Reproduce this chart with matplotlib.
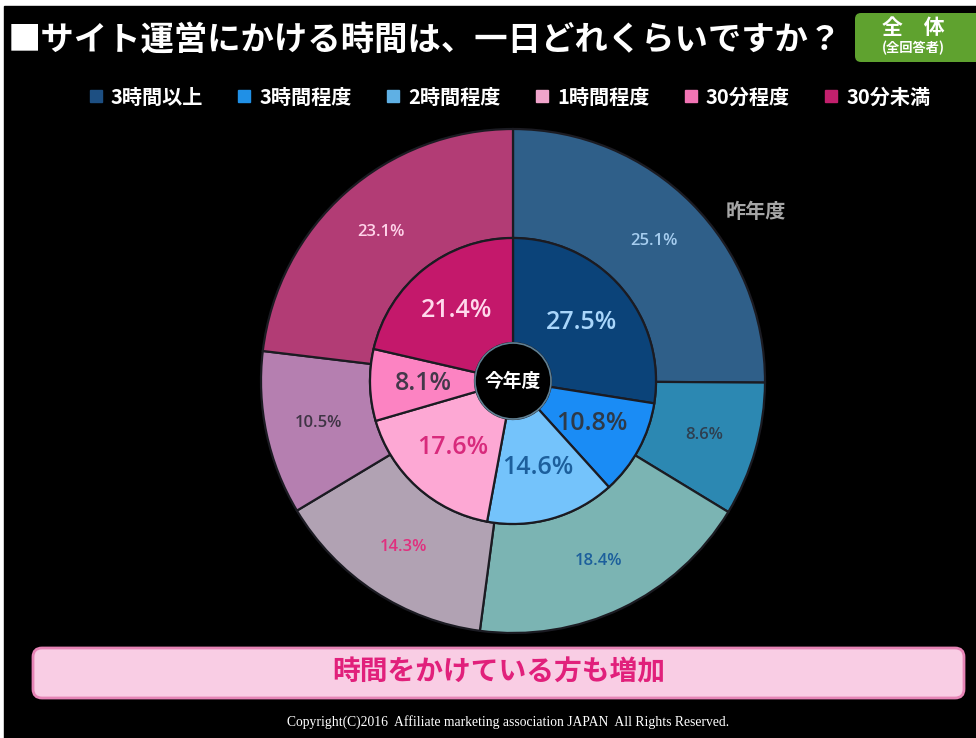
import matplotlib
matplotlib.use("Agg")
import matplotlib.pyplot as plt
from matplotlib.patches import Rectangle, FancyBboxPatch, Circle
from matplotlib.lines import Line2D

plt.rcParams['font.family'] = ['Noto Sans CJK JP', 'DejaVu Sans']

# -----------------------------
# data
# -----------------------------
categories = ["3時間以上", "3時間程度", "2時間程度", "1時間程度", "30分程度", "30分未満"]
this_year = [27.5, 10.8, 14.6, 17.6, 8.1, 21.4]   # inner ring (今年度)
last_year = [25.1, 8.6, 18.4, 14.3, 10.5, 23.1]   # outer ring (昨年度)

title = "■サイト運営にかける時間は、一日どれくらいですか？"
comment = "時間をかけている方も増加"
copyright_text = "Copyright(C)2016  Affiliate marketing association JAPAN  All Rights Reserved."

# -----------------------------
# colours
# -----------------------------
inner_colors = ["#0b4379", "#1a8cf5", "#74c3fb", "#fda8d4", "#fc83c2", "#c4186b"]
outer_colors = ["#2f5f89", "#2c88b2", "#7bb4b3", "#b1a2b3", "#b57fb0", "#b23c75"]
inner_txt = ["#a9d6fb", "#2e3a48", "#1c5f9c", "#d82a7c", "#43384a", "#ffd9ec"]
outer_txt = ["#a6cdef", "#2e3f50", "#1c5f9c", "#e0307f", "#3f3445", "#ffd3e9"]
legend_colors = ["#1d4f82", "#2090e6", "#5fb0e4", "#f0a4cb", "#f274b4", "#c3206d"]

W, H = 976, 738
fig = plt.figure(figsize=(W / 100, H / 100), dpi=100, facecolor="white")

# background axes in pixel coordinates
bg = fig.add_axes([0, 0, 1, 1])
bg.set_xlim(0, W)
bg.set_ylim(H, 0)
bg.axis("off")
bg.add_patch(Rectangle((4, 6), W, H, color="black", zorder=0))

# title
bg.text(8, 40, title, color="white", fontsize=24, fontweight="bold",
        ha="left", va="center")

# green tag
bg.add_patch(FancyBboxPatch((855, 13), 130, 49, boxstyle="round,pad=0,rounding_size=6",
                            facecolor="#5fa22f", edgecolor="none"))
bg.text(913, 28, "全　体", color="white", fontsize=15, fontweight="bold",
        ha="center", va="center")
bg.text(913, 48, "(全回答者)", color="white", fontsize=9.5, fontweight="bold",
        ha="center", va="center")

# legend
handles = [Line2D([], [], marker="s", linestyle="none", markersize=8,
                  markerfacecolor=c, markeredgecolor=c) for c in legend_colors]
fig.legend(handles, categories, loc="center", bbox_to_anchor=(510 / W, 1 - 97 / H),
           ncol=6, frameon=False, labelcolor="white",
           prop={"size": 14.5, "weight": "bold"},
           handlelength=0.6, handletextpad=0.45, columnspacing=1.75)

# -----------------------------
# nested donut
# -----------------------------
cx, cy, half = 513, 381, 262
ax = fig.add_axes([(cx - half) / W, 1 - (cy + half) / H, 2 * half / W, 2 * half / H])

r_out, r_mid, r_in = 252, 143, 38

_, _, out_pct = ax.pie(last_year, radius=r_out, colors=outer_colors, startangle=90,
                       counterclock=False, autopct="%.1f%%", pctdistance=199 / r_out,
                       wedgeprops=dict(width=r_out - r_mid, edgecolor="#1b1b22", linewidth=1.6),
                       textprops=dict(family=["Open Sans", "DejaVu Sans"],
                                      fontsize=12, fontweight="semibold"))
_, _, in_pct = ax.pie(this_year, radius=r_mid, colors=inner_colors, startangle=90,
                      counterclock=False, autopct="%.1f%%", pctdistance=90 / r_mid,
                      wedgeprops=dict(width=r_mid - r_in, edgecolor="#1b1b22", linewidth=1.6),
                      textprops=dict(family=["Open Sans", "DejaVu Sans"],
                                     fontsize=18, fontweight="semibold"))
for t, c in zip(out_pct, outer_txt):
    t.set_color(c)
for t, c in zip(in_pct, inner_txt):
    t.set_color(c)

ax.add_patch(Circle((0, 0), r_in, facecolor="black", edgecolor="#5f7f92", linewidth=1.2))
ax.text(0, 0, "今年度", color="white", fontsize=13.5, fontweight="bold",
        ha="center", va="center")

ax.set_xlim(-half, half)
ax.set_ylim(-half, half)
ax.set_aspect("equal")
ax.axis("off")

bg.text(756, 212, "昨年度", color="#a6a6a6", fontsize=14.5, fontweight="bold",
        ha="center", va="center")

# -----------------------------
# comment box and footer
# -----------------------------
bg.add_patch(FancyBboxPatch((33, 648), 931, 50, boxstyle="round,pad=0,rounding_size=9",
                            facecolor="#f9cde4", edgecolor="#e684b6", linewidth=2))
bg.text(499, 672, comment, color="#e1207b", fontsize=20, fontweight="bold",
        ha="center", va="center")

bg.text(508, 722, copyright_text, color="white", fontsize=9.8,
        family="Liberation Serif", ha="center", va="center")

fig.savefig("out.png", dpi=100, facecolor=fig.get_facecolor())
